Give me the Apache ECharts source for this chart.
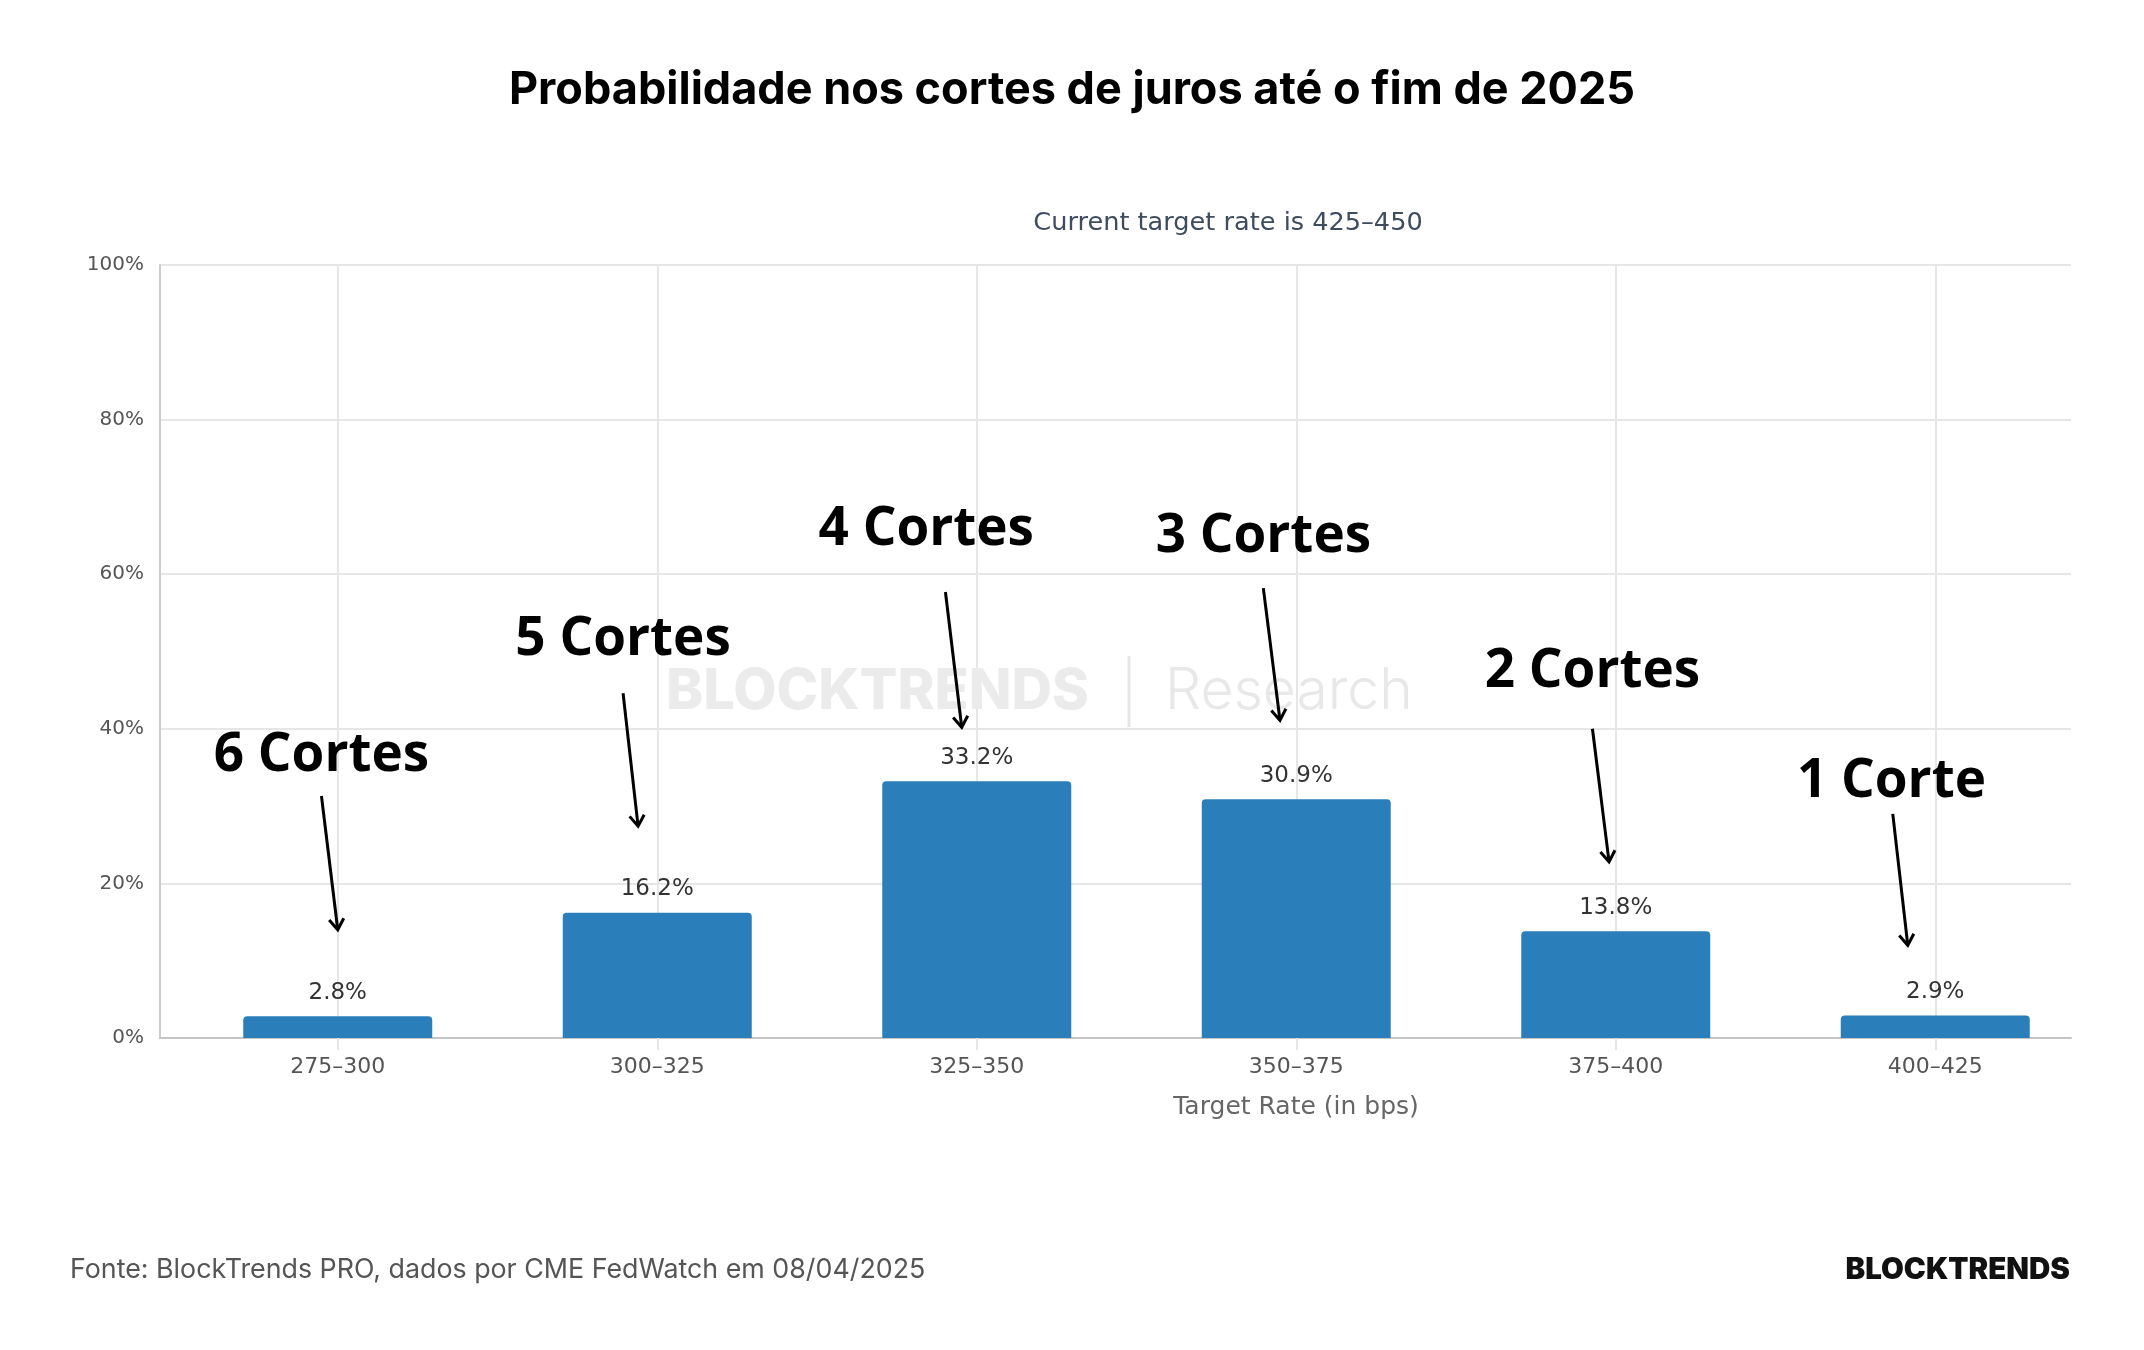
<!DOCTYPE html>
<html>
<head>
<meta charset="utf-8">
<script src="https://cdn.jsdelivr.net/npm/echarts@6/dist/echarts.min.js"></script>
<style>
  html, body { margin: 0; background: #fff; }
  #chart { width: 2144px; height: 1350px; }
</style>
</head>
<body>
<div id="chart"></div>
<script>
const rateBuckets = ['275–300', '300–325', '325–350', '350–375', '375–400', '400–425']
const probabilities = [2.8, 16.2, 33.2, 30.9, 13.8, 2.9]
const cutLabels = ['6 Cortes', '5 Cortes', '4 Cortes', '3 Cortes', '2 Cortes', '1 Corte']

// annotation anchors, in % on the y axis
const arrowTips = [14.0, 27.4, 40.2, 41.1, 22.8, 12.0]
const arrowTails = [31.3, 44.6, 57.7, 58.2, 40.0, 29.0]
const noteLevels = [36.5, 51.5, 65.7, 64.8, 47.4, 33.1]

// sideways nudge of each annotation, as a share of the category band
const tipShift = [0, -0.06, -0.047, -0.051, -0.021, -0.086]
const tailShift = [-0.051, -0.107, -0.098, -0.103, -0.073, -0.133]
const noteShift = [-0.051, -0.107, -0.158, -0.103, -0.073, -0.137]

const axisFont = 'DejaVu Sans'
const gridTop = 265
const gridBottom = 312

const chart = echarts.init(document.getElementById('chart'))

const renderNote = (params, api) => {
  const i = api.value(0)
  const band = api.size([1, 0])[0]
  const tip = api.coord([i, api.value(1)])
  const tail = api.coord([i, api.value(2)])
  const note = api.coord([i, api.value(3)])
  const tx = tip[0] + tipShift[i] * band
  const ty = tip[1]
  const sx = tail[0] + tailShift[i] * band
  const sy = tail[1]
  const ang = Math.atan2(ty - sy, tx - sx)
  const head = 13
  const spread = 0.6
  const p1 = [tx - head * Math.cos(ang - spread), ty - head * Math.sin(ang - spread)]
  const p2 = [tx - head * Math.cos(ang + spread), ty - head * Math.sin(ang + spread)]
  return {
    type: 'group',
    children: [
      {
        type: 'line',
        shape: { x1: sx, y1: sy, x2: tx, y2: ty },
        style: { stroke: '#000', lineWidth: 3 },
      },
      {
        type: 'polyline',
        shape: { points: [p1, [tx, ty], p2] },
        style: { stroke: '#000', lineWidth: 3, fill: null },
      },
      {
        type: 'text',
        x: note[0] + noteShift[i] * band,
        y: note[1],
        style: {
          text: cutLabels[i],
          fill: '#000',
          font: '700 53px "Open Sans"',
          align: 'center',
          verticalAlign: 'middle',
        },
      },
    ],
  }
}

const option = {
  backgroundColor: '#fff',
  animation: false,
  title: {
    text: 'Probabilidade nos cortes de juros até o fim de 2025',
    left: 'center',
    top: 63,
    textStyle: {
      fontFamily: 'Inter',
      fontWeight: 700,
      fontSize: 45,
      color: '#000',
    },
  },
  grid: [
    // bars and category labels
    { left: 178, right: 49, top: gridTop, bottom: gridBottom },
    // frame: y axis, horizontal lines, baseline
    { left: 160, right: 73, top: gridTop, bottom: gridBottom },
  ],
  xAxis: [
    {
      type: 'category',
      gridIndex: 0,
      data: rateBuckets,
      axisLine: { show: false },
      axisTick: {
        show: true,
        alignWithLabel: true,
        length: 12,
        lineStyle: { color: '#e6e6e6', width: 2 },
      },
      splitLine: {
        show: true,
        alignWithLabel: true,
        lineStyle: { color: '#e6e6e6', width: 2 },
      },
      axisLabel: {
        color: '#555',
        fontFamily: axisFont,
        fontSize: 22,
        margin: 18,
      },
    },
    {
      type: 'category',
      gridIndex: 1,
      data: rateBuckets,
      axisLine: { show: true, lineStyle: { color: '#c4c4c4', width: 2 } },
      axisTick: { show: false },
      axisLabel: { show: false },
      splitLine: { show: false },
    },
  ],
  yAxis: [
    {
      type: 'value',
      gridIndex: 0,
      min: 0,
      max: 100,
      show: false,
    },
    {
      type: 'value',
      gridIndex: 1,
      min: 0,
      max: 100,
      interval: 20,
      axisLine: { show: true, lineStyle: { color: '#cccccc', width: 2 } },
      axisTick: { show: false },
      splitLine: { lineStyle: { color: '#e6e6e6', width: 2 } },
      axisLabel: {
        formatter: '{value}%',
        color: '#555',
        fontFamily: axisFont,
        fontSize: 20,
        margin: 16,
      },
    },
  ],
  graphic: [
    {
      type: 'text',
      x: 1228,
      y: 223,
      style: {
        text: 'Current target rate is 425–450',
        fill: '#3e4c5e',
        font: '25.6px "DejaVu Sans"',
        align: 'center',
        verticalAlign: 'middle',
      },
    },
    {
      type: 'text',
      x: 1296,
      y: 1107,
      style: {
        text: 'Target Rate (in bps)',
        fill: '#666',
        font: '25px "DejaVu Sans"',
        align: 'center',
        verticalAlign: 'middle',
      },
    },
    // watermark
    {
      type: 'text',
      x: 666,
      y: 692,
      z: 1,
      style: {
        text: 'BLOCKTRENDS',
        fill: '#ebebeb',
        font: '800 56px Inter',
        align: 'left',
        verticalAlign: 'middle',
      },
    },
    {
      type: 'line',
      z: 1,
      shape: { x1: 1129, y1: 656, x2: 1129, y2: 727 },
      style: { stroke: '#e6e6e6', lineWidth: 3 },
    },
    {
      type: 'text',
      x: 1165,
      y: 692,
      z: 1,
      style: {
        text: 'Research',
        fill: '#e8e8e8',
        font: '300 57px Inter',
        align: 'left',
        verticalAlign: 'middle',
      },
    },
    // footer
    {
      type: 'text',
      x: 70,
      y: 1270,
      style: {
        text: 'Fonte: BlockTrends PRO, dados por CME FedWatch em 08/04/2025',
        fill: '#555',
        font: '26.8px Inter',
        align: 'left',
        verticalAlign: 'middle',
      },
    },
    {
      type: 'text',
      x: 2070,
      y: 1270,
      style: {
        text: 'BLOCKTRENDS',
        fill: '#111',
        font: '900 29.5px Inter',
        align: 'right',
        verticalAlign: 'middle',
      },
    },
  ],
  series: [
    {
      type: 'bar',
      xAxisIndex: 0,
      yAxisIndex: 0,
      data: probabilities,
      barWidth: 189,
      itemStyle: { color: '#2a7fba', borderRadius: [4, 4, 0, 0] },
      label: {
        show: true,
        position: 'top',
        distance: 12,
        formatter: (p) => p.value.toFixed(1) + '%',
        color: '#333',
        fontFamily: axisFont,
        fontSize: 23,
      },
    },
    {
      type: 'custom',
      xAxisIndex: 0,
      yAxisIndex: 0,
      clip: false,
      z: 5,
      renderItem: renderNote,
      encode: { x: 0, y: 1 },
      data: rateBuckets.map((_, i) => [i, arrowTips[i], arrowTails[i], noteLevels[i]]),
    },
  ],
}

chart.setOption(option)
</script>
</body>
</html>
